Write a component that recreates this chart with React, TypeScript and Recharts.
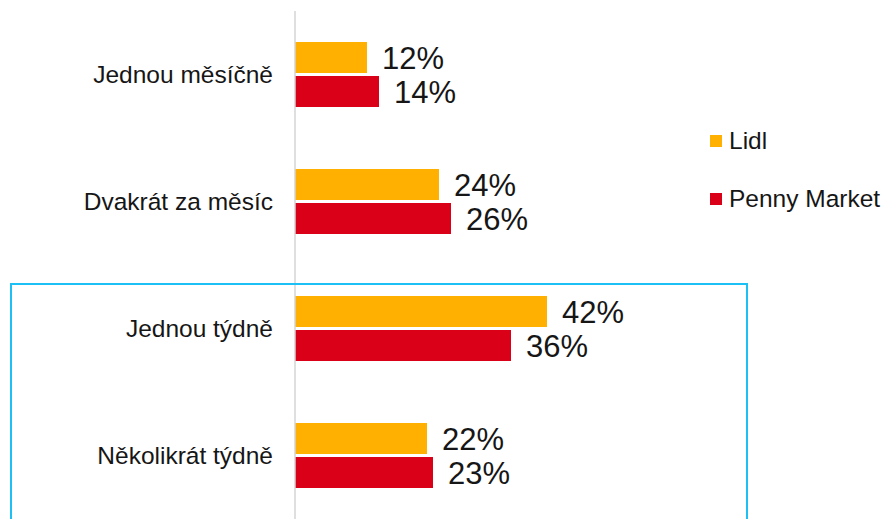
import React from 'react';
import { BarChart, Bar, XAxis, YAxis, LabelList, Legend } from 'recharts';

const categories = ['Jednou měsíčně', 'Dvakrát za měsíc', 'Jednou týdně', 'Několikrát týdně'];
const lidlValues = [12, 24, 42, 22];
const pennyValues = [14, 26, 36, 23];
const seriesNames = ['Lidl', 'Penny Market'];

const data = categories.map((name, i) => ({
  name,
  lidl: lidlValues[i],
  penny: pennyValues[i],
}));

const LIDL = '#FFB000';
const PENNY = '#D90018';
const FONT = '"Liberation Sans", Arial, Helvetica, sans-serif';

const CategoryTick = (props: any) => {
  const { x, y, payload } = props;
  return (
    <text
      x={x - 14}
      y={y}
      dy="0.355em"
      textAnchor="end"
      fontSize={24.5}
      fill="#161616"
      fontFamily={FONT}
    >
      {payload.value}
    </text>
  );
};

const LegendContent = (props: any) => {
  const payload = props.payload || [];
  return (
    <div style={{ fontFamily: FONT }}>
      {payload.map((entry: any, i: number) => (
        <div
          key={i}
          style={{
            display: 'flex',
            alignItems: 'center',
            height: 24,
            marginBottom: 34,
            whiteSpace: 'nowrap',
          }}
        >
          <span
            style={{
              display: 'inline-block',
              width: 12,
              height: 12,
              background: entry.color,
              marginRight: 7,
            }}
          />
          <span style={{ fontSize: 24.5, color: '#161616', lineHeight: '24px' }}>{entry.value}</span>
        </div>
      ))}
    </div>
  );
};

export default function App() {
  return (
    <div style={{ position: 'absolute', left: 0, top: 0, width: 884, height: 519, fontFamily: FONT, background: '#fff', overflow: 'hidden' }}>
      <BarChart
        width={884}
        height={519}
        data={data}
        layout="vertical"
        margin={{ top: 11, right: 289, bottom: 0, left: 0 }}
        barSize={31}
        barGap={3}
      >
        <XAxis type="number" domain={[0, 50]} hide />
        <YAxis
          type="category"
          dataKey="name"
          width={295}
          axisLine={{ stroke: '#d4d4d4', strokeWidth: 1.5 }}
          tickLine={false}
          tick={<CategoryTick />}
          interval={0}
        />
        <Legend
          layout="horizontal"
          verticalAlign="middle"
          align="center"
          content={<LegendContent />}
          wrapperStyle={{ left: 710, top: 129, width: 174 }}
        />
        <Bar dataKey="lidl" name={seriesNames[0]} fill={LIDL} isAnimationActive={false}>
          <LabelList
            dataKey="lidl"
            position="right"
            offset={15}
            fontSize={31}
            fill="#161616"
            fontFamily={FONT}
            formatter={(v: any) => `${v}%`}
          />
        </Bar>
        <Bar dataKey="penny" name={seriesNames[1]} fill={PENNY} isAnimationActive={false}>
          <LabelList
            dataKey="penny"
            position="right"
            offset={15}
            fontSize={31}
            fill="#161616"
            fontFamily={FONT}
            formatter={(v: any) => `${v}%`}
          />
        </Bar>
      </BarChart>
      <div
        style={{
          position: 'absolute',
          left: 10,
          top: 283,
          width: 734,
          height: 260,
          border: '2px solid #1CC0F4',
          pointerEvents: 'none',
        }}
      />
    </div>
  );
}
